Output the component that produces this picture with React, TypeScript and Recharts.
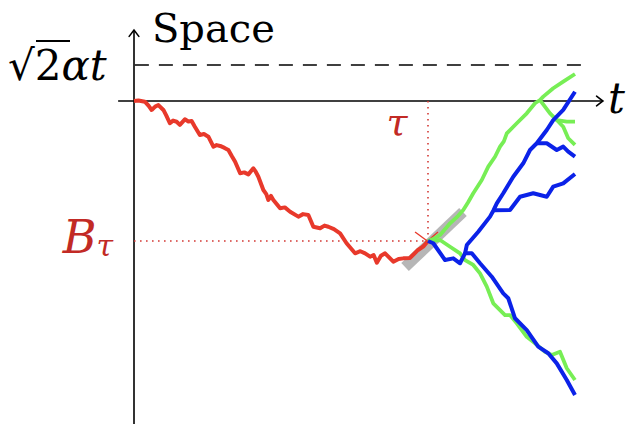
import React from "react";
import { ComposedChart, Scatter, XAxis, YAxis, ReferenceLine, ReferenceDot } from "recharts";

// time t in units where tau = 100, space in units where B_tau = -100
const T_DOMAIN: [number, number] = [-45.58, 167.35];
const S_DOMAIN: [number, number] = [-230.71, 72.14];

const TAU = 100;
const B_TAU = -100;
const BARRIER = 25.7; // sqrt(2) alpha t level

const redPath: number[][] = [
  [0, 0], [1.5, 0.4], [3.7, -0.5], [5.0, -3.5], [6.0, -6.4], [7.2, -4.0], [8.3, -2.9], [10.0, -6.4],
  [11.0, -10.5], [12.2, -15.9], [13.3, -14.0], [14.5, -14.8], [15.6, -17.1], [17.3, -13.1],
  [18.5, -14.6], [19.6, -14.3], [20.7, -18.4], [22.4, -24.3], [23.8, -23.6], [25.3, -25.5],
  [27.0, -32.6], [28.1, -31.5], [29.3, -32.1], [30.8, -33.5], [32.1, -35], [33.3, -39.5],
  [34.4, -43.4], [36.1, -51.6], [37.5, -51.0], [38.9, -52.4], [40.6, -48.1], [41.4, -50.5],
  [42.3, -54.1], [44.0, -63.6], [45.0, -66.5], [45.7, -70.7], [46.6, -67.8], [47.4, -70.7],
  [49.7, -76.6], [51.3, -76.0], [53.1, -79.1], [55.9, -82.6], [57.5, -80.8], [59.3, -81.4],
  [61.0, -89.8], [63.3, -90.9], [64.8, -89.0], [66.1, -89.8], [68.0, -91.5], [70.1, -94.5],
  [72.3, -101.6], [75.2, -108.8], [77.0, -107.3], [78.6, -108.8], [80.3, -111.2], [81.5, -110.0],
  [82.6, -115.5], [84.0, -110.5], [85.4, -108.8], [88.2, -114.8], [90.0, -112.8], [91.6, -112.4],
  [93.9, -112.1], [96.6, -106.4], [98.5, -103.8], [100, -100],
];

const greenUp: number[][] = [
  [100, -100], [102.2, -98.2], [104.1, -95.7], [107.5, -87.4], [109.8, -83.0], [112.0, -77.9],
  [113.6, -72.5], [115.4, -65.9], [118.3, -56.4], [120.5, -46.9], [122.8, -39.8], [124.5, -32.6],
  [125.8, -28.8], [126.8, -23.1], [130.2, -15.9], [133.6, -8.8], [136.4, -1.6], [138.1, 0.7],
  [139.2, 3.1], [142.6, 9.1], [146.0, 13.8], [150, 19.3],
];
const greenBranchA: number[][] = [
  [138.1, 0.7], [141.5, -8.8], [143.8, -13.6], [147.2, -14.8], [150, -14.8],
];
const greenBranchB: number[][] = [
  [143.8, -13.6], [146.0, -18.4], [147.7, -26.6], [150, -31.4],
];
const greenDown: number[][] = [
  [100, -100], [104.1, -99.3], [107.5, -104.1], [110.9, -108.8], [112.6, -113.6], [115.4, -117.1],
  [117.7, -123.1], [120.0, -132.6], [122.2, -144.5], [126.2, -152.9], [127.9, -152.9],
  [130.2, -158.8], [133.6, -168.4], [136.4, -173.1], [139.8, -179.1], [142.1, -181.4],
  [144.9, -179.1], [147.2, -190.9], [150, -199.3],
];

const blueDown: number[][] = [
  [100, -100], [101.8, -101.6], [105.8, -113.6], [108.6, -112.4], [110.9, -115.9], [112.6, -108.8],
  [114.9, -108.8], [117.7, -115.9], [121.7, -125.5], [125.6, -137.4], [127.3, -140.9],
  [129.6, -155.2], [133.6, -163.6], [137.5, -175.5], [140.9, -180.2], [143.8, -187.4],
  [147.2, -199.3], [150, -210],
];
const blueUp: number[][] = [
  [112.6, -108.8], [113.2, -102.9], [117.1, -93.4], [121.1, -82.6], [122.3, -78], [123.4, -73.1],
  [125.6, -65.9], [129.0, -54.1], [132.4, -44.5], [134.7, -35], [137.0, -30.2], [140.4, -20.7],
  [142.6, -13.6], [146.0, -6.4], [150, 6.6],
];
const blueBranchA: number[][] = [
  [137.0, -30.2], [140.4, -30.2], [143.8, -35], [146.0, -32.6], [147.7, -36.2], [150, -39.8],
];
const blueBranchB: number[][] = [
  [122.3, -78], [127.9, -77.9], [131.3, -68.4], [135.8, -65.9], [140.4, -68.4], [142.6, -61.2],
  [146.0, -58.8], [150, -52.1],
];

const grayBar: number[][] = [[92.2, -118.6], [111.9, -79.3]];
const crossA: number[][] = [[95.6, -93.6], [100.7, -101.4]];
const crossB: number[][] = [[103.4, -93.6], [93.9, -110.7]];

const toRows = (pts: number[][]) => pts.map(([t, s]) => ({ t, s }));
const seg = (pts: number[][]) => pts.map(([x, y]) => ({ x, y }));

const RED = "#e8392b";
const GREEN = "#77ee55";
const BLUE = "#0b22e8";
const LABEL_RED = "#c22a25";
const MATH_FONT = "'DejaVu Serif', serif";

const NoDot = () => <g />;

const ArrowLine = (props: any) => {
  const { x1, y1, x2, y2 } = props;
  const ang = Math.atan2(y2 - y1, x2 - x1);
  const len = 8;
  const spread = 0.65;
  const ax = x2 - len * Math.cos(ang - spread);
  const ay = y2 - len * Math.sin(ang - spread);
  const bx = x2 - len * Math.cos(ang + spread);
  const by = y2 - len * Math.sin(ang + spread);
  return (
    <g>
      <line x1={x1} y1={y1} x2={x2} y2={y2} stroke="#000" strokeWidth={1.6} />
      <path d={`M${ax},${ay} L${x2},${y2} L${bx},${by}`} fill="none" stroke="#000" strokeWidth={1.6} strokeLinecap="round" />
    </g>
  );
};

const path = (key: string, pts: number[][], stroke: string, width: number, opacity = 1) => (
  <Scatter
    key={key}
    data={toRows(pts)}
    dataKey="s"
    shape={NoDot}
    line={{ stroke, strokeWidth: width, strokeOpacity: opacity, strokeLinejoin: "round", fill: "none" }}
    lineJointType="linear"
    isAnimationActive={false}
  />
);

export default function App() {
  return (
    <div style={{ position: "absolute", left: 0, top: 0, background: "#fff" }}>
      <ComposedChart width={626} height={424} margin={{ top: 0, right: 0, bottom: 0, left: 0 }}>
        <XAxis type="number" dataKey="t" domain={T_DOMAIN} hide allowDataOverflow />
        <YAxis type="number" dataKey="s" domain={S_DOMAIN} hide allowDataOverflow />

        <ReferenceLine segment={seg([[-5.4, 0], [159.5, 0]])} shape={ArrowLine} ifOverflow="visible" />
        <ReferenceLine segment={seg([[0, -235], [0, 50.7]])} shape={ArrowLine} ifOverflow="visible" />
        <ReferenceLine
          segment={seg([[0.3, BARRIER], [153, BARRIER]])}
          stroke="#000"
          strokeWidth={1.5}
          strokeDasharray="14 10"
          ifOverflow="visible"
        />
        <ReferenceLine
          segment={seg([[TAU, 0], [TAU, B_TAU]])}
          stroke="#d33a35"
          strokeWidth={1.6}
          strokeDasharray="1.6 4.4"
          ifOverflow="visible"
        />
        <ReferenceLine
          segment={seg([[0, B_TAU], [TAU, B_TAU]])}
          stroke="#d33a35"
          strokeWidth={1.6}
          strokeDasharray="1.6 4.4"
          ifOverflow="visible"
        />

        {path("gray", grayBar, "#a9a9a9", 11, 0.85)}
        {path("red", redPath, RED, 4)}
        {path("crossA", crossA, RED, 1.4)}
        {path("crossB", crossB, RED, 1.4)}
        {path("gUp", greenUp, GREEN, 3.8)}
        {path("gA", greenBranchA, GREEN, 3.8)}
        {path("gB", greenBranchB, GREEN, 3.8)}
        {path("gDown", greenDown, GREEN, 3.8)}
        {path("bDown", blueDown, BLUE, 4)}
        {path("bUp", blueUp, BLUE, 4)}
        {path("bA", blueBranchA, BLUE, 4)}
        {path("bB", blueBranchB, BLUE, 4)}

        <ReferenceDot
          x={6.1}
          y={42.1}
          r={0}
          shape={(p: any) => (
            <text x={p.cx} y={p.cy} fontFamily={MATH_FONT} fontSize={40} fill="#000">Space</text>
          )}
        />
        <ReferenceDot
          x={-42.86}
          y={15}
          r={0}
          shape={(p: any) => (
            <g>
              <text x={p.cx} y={p.cy} fontFamily={MATH_FONT} fontSize={42} fill="#000">
                <tspan>√</tspan>
                <tspan>2</tspan>
                <tspan fontStyle="italic">αt</tspan>
              </text>
              <line x1={p.cx + 28} y1={p.cy - 39} x2={p.cx + 62} y2={p.cy - 39} stroke="#000" strokeWidth={2} />
            </g>
          )}
        />
        <ReferenceDot
          x={161.2}
          y={-8.6}
          r={0}
          shape={(p: any) => (
            <text x={p.cx} y={p.cy} fontFamily={MATH_FONT} fontStyle="italic" fontSize={42} fill="#000">t</text>
          )}
        />
        <ReferenceDot
          x={89.5}
          y={-24.3}
          r={0}
          shape={(p: any) => (
            <text x={p.cx} y={p.cy} textAnchor="middle" fontFamily={MATH_FONT} fontStyle="italic" fontSize={38} fill={LABEL_RED}>τ</text>
          )}
        />
        <ReferenceDot
          x={-7.1}
          y={-108.6}
          r={0}
          shape={(p: any) => (
            <text x={p.cx} y={p.cy} textAnchor="end" fontFamily={MATH_FONT} fontStyle="italic" fontSize={46} fill={LABEL_RED}>
              B<tspan fontSize={30} dy={3}>τ</tspan>
            </text>
          )}
        />
      </ComposedChart>
    </div>
  );
}
